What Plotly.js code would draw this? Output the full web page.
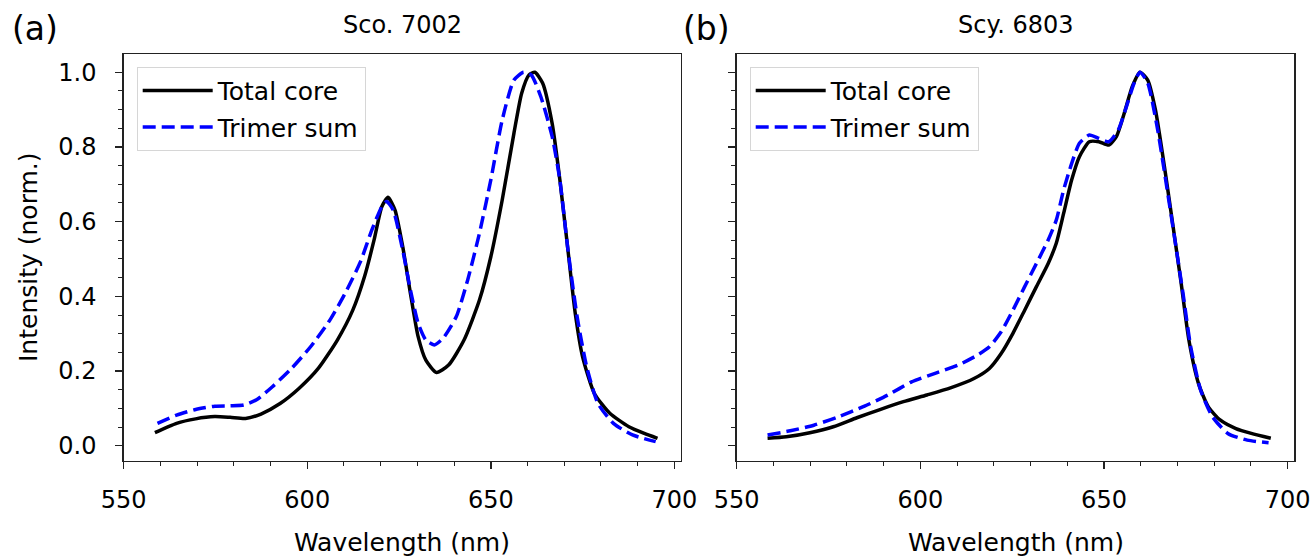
<!DOCTYPE html>
<html>
<head>
<meta charset="utf-8">
<script src="https://cdn.plot.ly/plotly-3.0.1.min.js"></script>
<style>html,body{margin:0;padding:0;background:#fff;}#chart{width:1313px;height:556px;}</style>
</head>
<body>
<div id="chart"></div>
<script>
// ---- Data ----
const panelTitles = ["Sco. 7002", "Scy. 6803"];
const panelLetters = ["(a)", "(b)"];
const seriesNames = ["Total core", "Trimer sum"];
const xTickVals = [550, 600, 650, 700];
const yTickVals = [0.0, 0.2, 0.4, 0.6, 0.8, 1.0];

// Panel (a) Sco. 7002 — Total core
const scoCoreX = [558.5,564.4,569.6,574.8,579.0,583.2,587.4,592.6,597.8,603.0,608.2,612.4,615.6,618.2,620.3,622.0,623.9,626.0,628.1,630.2,632.3,635.2,638.5,642.7,646.9,650.0,653.1,656.3,658.4,660.4,662.0,664.1,666.7,668.8,670.9,673.0,675.0,678.2,682.4,687.6,691.8,695.4];
const scoCoreY = [0.035,0.060,0.072,0.078,0.076,0.073,0.085,0.113,0.154,0.207,0.283,0.363,0.453,0.551,0.640,0.665,0.631,0.533,0.408,0.292,0.229,0.196,0.216,0.283,0.390,0.506,0.658,0.837,0.944,0.993,1.000,0.971,0.863,0.712,0.533,0.354,0.238,0.140,0.087,0.051,0.033,0.020];
// Panel (a) Sco. 7002 — Trimer sum
const scoTrimerX = [559.2,564.4,569.6,574.8,579.0,582.7,586.3,590.5,595.7,600.9,606.2,610.3,614.5,617.6,620.3,621.6,623.4,626.0,628.1,630.2,632.3,634.6,637.0,640.6,643.7,646.9,650.0,653.1,656.3,658.9,661.0,663.6,666.7,668.8,670.9,673.5,676.1,679.2,683.4,688.6,694.9];
const scoTrimerY = [0.060,0.082,0.097,0.106,0.107,0.109,0.124,0.158,0.207,0.265,0.337,0.408,0.493,0.578,0.640,0.654,0.631,0.524,0.417,0.328,0.283,0.270,0.288,0.346,0.444,0.569,0.712,0.872,0.979,1.000,0.993,0.935,0.828,0.712,0.533,0.346,0.212,0.113,0.060,0.029,0.011];
// Panel (b) Scy. 6803 — Total core
const scyCoreX = [558.4,563.5,569.9,576.3,582.7,589.0,595.4,601.8,608.2,614.6,618.8,622.0,625.2,628.4,631.6,634.8,637.0,639.0,641.2,643.3,646.0,648.6,651.3,653.4,655.5,657.7,659.8,661.9,664.0,666.7,668.8,671.0,673.1,675.7,678.4,681.6,685.9,690.1,695.4];
const scyCoreY = [0.020,0.024,0.035,0.051,0.075,0.097,0.118,0.136,0.155,0.180,0.207,0.247,0.301,0.363,0.426,0.488,0.542,0.622,0.712,0.774,0.814,0.814,0.805,0.828,0.890,0.962,1.000,0.979,0.899,0.730,0.587,0.435,0.283,0.167,0.104,0.069,0.046,0.033,0.020];
// Panel (b) Scy. 6803 — Trimer sum
const scyTrimerX = [558.4,564.6,571.0,577.3,584.8,591.2,597.6,604.0,610.3,615.6,618.8,622.0,625.2,628.4,631.6,634.8,637.0,639.0,641.2,643.3,646.0,648.6,651.3,653.9,656.1,658.2,659.8,661.9,664.6,667.2,669.3,671.5,673.6,676.3,679.5,683.7,689.0,694.8];
const scyTrimerY = [0.029,0.040,0.055,0.076,0.106,0.136,0.171,0.194,0.216,0.243,0.265,0.305,0.363,0.426,0.488,0.551,0.604,0.685,0.756,0.810,0.832,0.823,0.814,0.846,0.908,0.971,1.000,0.971,0.846,0.685,0.551,0.408,0.265,0.149,0.078,0.033,0.015,0.008];

// ---- Styling ----
const FONT = "DejaVu Sans, sans-serif";
const W = 1313, H = 556;
const px = v => v / W;
const py = v => 1 - v / H;

const coreLine = {color: "#000000", width: 3.5, shape: "spline", smoothing: 0.6};
const trimerLine = {color: "#0000ff", width: 3.5, dash: "13px,6px", shape: "spline", smoothing: 0.6};

const traces = [
  {x: scoCoreX, y: scoCoreY, name: seriesNames[0], mode: "lines", line: coreLine, xaxis: "x", yaxis: "y", legend: "legend", legendgroup: "a1"},
  {x: scoTrimerX, y: scoTrimerY, name: seriesNames[1], mode: "lines", line: trimerLine, xaxis: "x", yaxis: "y", legend: "legend", legendgroup: "a2"},
  {x: scyCoreX, y: scyCoreY, name: seriesNames[0], mode: "lines", line: coreLine, xaxis: "x2", yaxis: "y2", legend: "legend2", legendgroup: "b1"},
  {x: scyTrimerX, y: scyTrimerY, name: seriesNames[1], mode: "lines", line: trimerLine, xaxis: "x2", yaxis: "y2", legend: "legend2", legendgroup: "b2"}
];

const tickFont = {family: FONT, size: 24, color: "#000"};
function xAxis(domain, anchor) {
  return {
    domain: domain, anchor: anchor, range: [550, 701.8], automargin: false,
    showline: true, linecolor: "#222", linewidth: 1.4, mirror: true,
    showgrid: false, zeroline: false,
    tickmode: "array", tickvals: xTickVals, ticktext: xTickVals.map(String),
    ticks: "outside", ticklen: 7, tickwidth: 1.4, tickcolor: "#222",
    ticklabelstandoff: 10, tickfont: tickFont,
    minor: {dtick: 10, tick0: 550, ticks: "outside", ticklen: 4, tickwidth: 1, tickcolor: "#222", showgrid: false}
  };
}
function yAxis(domain, anchor, labels) {
  return {
    domain: domain, anchor: anchor, range: [-0.040, 1.048], automargin: false,
    showline: true, linecolor: "#222", linewidth: 1.4, mirror: true,
    showgrid: false, zeroline: false,
    tickmode: "array", tickvals: yTickVals, ticktext: yTickVals.map(v => v.toFixed(1)),
    showticklabels: labels,
    ticks: "outside", ticklen: 7, tickwidth: 1.4, tickcolor: "#222",
    ticklabelstandoff: 14, tickfont: tickFont,
    minor: {dtick: 0.05, tick0: 0, ticks: "outside", ticklen: 4, tickwidth: 1, tickcolor: "#222", showgrid: false}
  };
}

const yDom = [py(460.7), py(54.3)];
const legendStyle = (x) => ({
  x: x, y: py(66.7), xref: "paper", yref: "paper", xanchor: "left", yanchor: "top",
  bgcolor: "rgba(255,255,255,0.85)", bordercolor: "#d6d6d6", borderwidth: 1,
  font: {family: FONT, size: 25, color: "#000"},
  traceorder: "grouped", tracegroupgap: 1, itemwidth: 70
});

const layout = {
  width: W, height: H,
  margin: {l: 0, r: 0, t: 0, b: 0, pad: 0},
  paper_bgcolor: "#fff", plot_bgcolor: "#fff",
  font: {family: FONT, color: "#000"},
  showlegend: true,
  xaxis: xAxis([px(123.7), px(681)], "y"),
  yaxis: yAxis(yDom, "x", true),
  xaxis2: xAxis([px(736.7), px(1294.3)], "y2"),
  yaxis2: yAxis(yDom, "x2", false),
  legend: legendStyle(px(136.7)),
  legend2: legendStyle(px(749.7)),
  annotations: [
    {text: panelLetters[0], x: px(10), y: py(28), xref: "paper", yref: "paper", xanchor: "left", yanchor: "middle", showarrow: false, font: {family: FONT, size: 33}},
    {text: panelLetters[1], x: px(681), y: py(28), xref: "paper", yref: "paper", xanchor: "left", yanchor: "middle", showarrow: false, font: {family: FONT, size: 33}},
    {text: panelTitles[0], x: px(402.3), y: py(25), xref: "paper", yref: "paper", xanchor: "center", yanchor: "middle", showarrow: false, font: {family: FONT, size: 24}},
    {text: panelTitles[1], x: px(1015.5), y: py(25), xref: "paper", yref: "paper", xanchor: "center", yanchor: "middle", showarrow: false, font: {family: FONT, size: 24}},
    {text: "Intensity (norm.)", x: px(28), y: py(257), xref: "paper", yref: "paper", xanchor: "center", yanchor: "middle", textangle: -90, showarrow: false, font: {family: FONT, size: 25}},
    {text: "Wavelength (nm)", x: px(402.3), y: py(542), xref: "paper", yref: "paper", xanchor: "center", yanchor: "middle", showarrow: false, font: {family: FONT, size: 25}},
    {text: "Wavelength (nm)", x: px(1015.5), y: py(542), xref: "paper", yref: "paper", xanchor: "center", yanchor: "middle", showarrow: false, font: {family: FONT, size: 25}}
  ]
};

Plotly.newPlot("chart", traces, layout, {displayModeBar: false, staticPlot: true});
</script>
</body>
</html>
